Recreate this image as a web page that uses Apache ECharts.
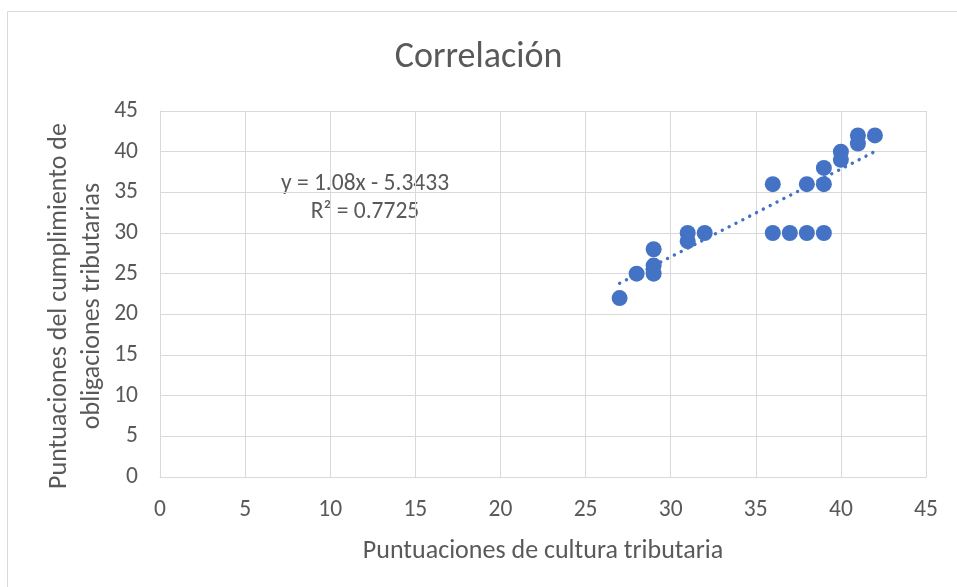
<!DOCTYPE html>
<html>
<head>
<meta charset="utf-8">
<script src="https://cdn.jsdelivr.net/npm/echarts@6/dist/echarts.min.js"></script>
<style>
html,body{margin:0;padding:0;background:#fff;}
#chart{width:957px;height:587px;}
</style>
</head>
<body>
<div id="chart"></div>
<script>
// Data
const culturaScores = [27, 28, 29, 29, 29, 31, 31, 32, 36, 36, 37, 38, 39, 38, 39, 39, 40, 40, 41, 41, 42];
const cumplimientoScores = [22, 25, 28, 26, 25, 30, 29, 30, 36, 30, 30, 30, 30, 36, 36, 38, 40, 39, 42, 41, 42];
const trendX = [27, 42];
const trendY = [23.82, 40.02];
const axisTicks = [0, 5, 10, 15, 20, 25, 30, 35, 40, 45];
const titleText = 'Correlación';
const xAxisTitle = 'Puntuaciones de cultura tributaria';
const yAxisTitle = 'Puntuaciones del cumplimiento de\nobligaciones tributarias';
const equationText = 'y = 1.08x - 5.3433';
const r2Text = 'R² = 0.7725';

const FONT = "Carlito, 'Open Sans', sans-serif";
const TXT = '#595959';
const GRID = '#D9D9D9';

const points = culturaScores.map((x, i) => [x, cumplimientoScores[i]]);
const trend = trendX.map((x, i) => [x, trendY[i]]);

const chart = echarts.init(document.getElementById('chart'), null, {renderer: 'canvas'});
chart.setOption({
  animation: false,
  backgroundColor: '#fff',
  title: {
    text: titleText,
    left: 'center',
    top: 38,
    padding: 0,
    textStyle: {fontFamily: FONT, fontSize: 36, lineHeight: 40, fontWeight: 'normal', color: TXT}
  },
  grid: {left: 160, right: 31, top: 111, bottom: 110, containLabel: false},
  xAxis: {
    type: 'value',
    min: axisTicks[0], max: axisTicks[axisTicks.length - 1], interval: 5,
    name: xAxisTitle,
    nameLocation: 'middle',
    nameGap: 61,
    nameTextStyle: {fontFamily: FONT, fontSize: 26, color: TXT},
    axisLine: {show: true, lineStyle: {color: GRID, width: 1}},
    axisTick: {show: false},
    axisLabel: {fontFamily: FONT, fontSize: 23.5, color: TXT, margin: 21},
    splitLine: {show: true, lineStyle: {color: GRID, width: 1}}
  },
  yAxis: {
    type: 'value',
    min: axisTicks[0], max: axisTicks[axisTicks.length - 1], interval: 5,
    axisLine: {show: true, lineStyle: {color: GRID, width: 1}},
    axisTick: {show: false},
    axisLabel: {fontFamily: FONT, fontSize: 23.5, color: TXT, margin: 22},
    splitLine: {show: true, lineStyle: {color: GRID, width: 1}}
  },
  series: [
    {
      type: 'line',
      data: trend,
      symbol: 'none',
      lineStyle: {color: '#4472C4', width: 3.4, type: [0.1, 7.6], cap: 'round'},
      z: 2
    },
    {
      type: 'scatter',
      data: points,
      symbol: 'circle',
      symbolSize: 16,
      itemStyle: {color: '#4472C4', opacity: 1},
      z: 3
    }
  ],
  graphic: [
    {type: 'rect', shape: {x: 7.5, y: 11.5, width: 960, height: 590}, style: {fill: 'none', stroke: GRID, lineWidth: 1}, silent: true},
    {type: 'text', x: 76, y: 306, rotation: Math.PI / 2,
     style: {text: yAxisTitle, font: "26px " + FONT, lineHeight: 33, fill: TXT, align: 'center', verticalAlign: 'middle'}},
    {type: 'text', x: 365, y: 184, style: {text: equationText, font: "23.5px " + FONT, fill: TXT, align: 'center', verticalAlign: 'middle'}},
    {type: 'text', x: 365, y: 212, style: {text: r2Text, font: "23.5px " + FONT, fill: TXT, align: 'center', verticalAlign: 'middle'}}
  ]
});
</script>
</body>
</html>
